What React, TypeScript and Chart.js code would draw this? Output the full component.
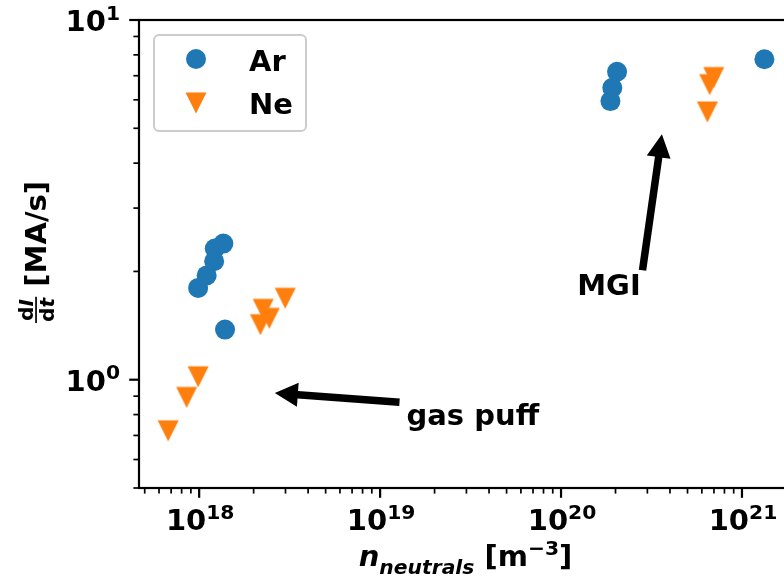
import React, { useEffect, useRef } from 'react';
import { Chart, registerables } from 'chart.js';

Chart.register(...registerables);

// ---- data ----
const seriesLabels = ['Ar', 'Ne'];
const arX = [9.87e17, 1.10e18, 1.21e18, 1.22e18, 1.36e18, 1.39e18, 2.04e20, 1.92e20, 1.875e20, 1.33e21];
const arY = [1.80, 1.95, 2.135, 2.315, 2.39, 1.378, 7.18, 6.48, 5.95, 7.78];
const neX = [6.74e17, 8.52e17, 9.87e17, 2.26e18, 2.44e18, 2.18e18, 2.99e18, 6.98e20, 6.63e20, 6.44e20];
const neY = [0.721, 0.893, 1.019, 1.569, 1.481, 1.422, 1.684, 6.92, 6.61, 5.55];

const xMin = 4.65e17;
const xMax = 2.04e21;
const yMin = 0.5;
const yMax = 10;
const xMajorExps = [18, 19, 20, 21];
const yMajorExps = [0, 1];

const annotationTexts = ['MGI', 'gas puff'];
const annotationTips = [[3.61e20, 4.81], [2.62e18, 0.918]];
const annotationTails = [[2.82e20, 2.015], [1.28e19, 0.866]];
const annotationTextPos = [[1.84e20, 1.717], [1.40e19, 0.746]];
const annotationAlign = ['center', 'left'];

const BLUE = '#1f77b4';
const ORANGE = '#ff7f0e';
const FAMILY = '"DejaVu Sans", sans-serif';
const BASE = 29;
const SUB = 20.3;

function fnt(size: number, italic = false) {
  return `${italic ? 'italic ' : ''}bold ${size}px ${FAMILY}`;
}

type Run = { text: string; size: number; italic?: boolean; dy?: number };

function drawRuns(ctx: CanvasRenderingContext2D, runs: Run[], x: number, y: number, align: 'left' | 'center' | 'right') {
  const widths = runs.map((r) => {
    ctx.font = fnt(r.size, r.italic);
    return ctx.measureText(r.text).width;
  });
  const total = widths.reduce((a, b) => a + b, 0);
  let cx = align === 'left' ? x : align === 'center' ? x - total / 2 : x - total;
  ctx.textAlign = 'left';
  ctx.textBaseline = 'alphabetic';
  runs.forEach((r, i) => {
    ctx.font = fnt(r.size, r.italic);
    ctx.fillText(r.text, cx, y + (r.dy || 0));
    cx += widths[i];
  });
}

function triPath(ctx: CanvasRenderingContext2D, cx: number, cy: number, h: number) {
  ctx.beginPath();
  ctx.moveTo(cx - h, cy - h);
  ctx.lineTo(cx + h, cy - h);
  ctx.lineTo(cx, cy + h);
  ctx.closePath();
}

function drawArrow(ctx: CanvasRenderingContext2D, x1: number, y1: number, x2: number, y2: number) {
  const shaftW = 7.5, headW = 24, headL = 23;
  const dx = x2 - x1, dy = y2 - y1;
  const len = Math.hypot(dx, dy);
  const ux = dx / len, uy = dy / len;
  const nx = -uy, ny = ux;
  const bx = x2 - ux * headL, by = y2 - uy * headL;
  ctx.beginPath();
  ctx.moveTo(x1 + nx * shaftW / 2, y1 + ny * shaftW / 2);
  ctx.lineTo(bx + nx * shaftW / 2, by + ny * shaftW / 2);
  ctx.lineTo(bx + nx * headW / 2, by + ny * headW / 2);
  ctx.lineTo(x2, y2);
  ctx.lineTo(bx - nx * headW / 2, by - ny * headW / 2);
  ctx.lineTo(bx - nx * shaftW / 2, by - ny * shaftW / 2);
  ctx.lineTo(x1 - nx * shaftW / 2, y1 - ny * shaftW / 2);
  ctx.closePath();
  ctx.fillStyle = '#000';
  ctx.fill();
}

const decorPlugin = {
  id: 'decor',
  afterDraw(chart: any) {
    const ctx: CanvasRenderingContext2D = chart.ctx;
    const { left, right, top, bottom } = chart.chartArea;
    const xs = chart.scales.x;
    const ys = chart.scales.y;
    ctx.save();

    // annotations
    annotationTexts.forEach((t, i) => {
      const tx = xs.getPixelForValue(annotationTails[i][0]);
      const ty = ys.getPixelForValue(annotationTails[i][1]);
      const hx = xs.getPixelForValue(annotationTips[i][0]);
      const hy = ys.getPixelForValue(annotationTips[i][1]);
      drawArrow(ctx, tx, ty, hx, hy);
      ctx.fillStyle = '#000';
      drawRuns(ctx, [{ text: t, size: BASE }], xs.getPixelForValue(annotationTextPos[i][0]),
        ys.getPixelForValue(annotationTextPos[i][1]), annotationAlign[i] as any);
    });

    // frame
    ctx.strokeStyle = '#000';
    ctx.lineWidth = 2.2;
    ctx.lineJoin = 'miter';
    ctx.strokeRect(left, top, right - left, bottom - top);

    // ticks
    const tickDraw = (isX: boolean) => {
      for (let e = -2; e <= 22; e++) {
        for (let k = 1; k <= 9; k++) {
          const v = k * Math.pow(10, e);
          const lo = isX ? xMin : yMin, hi = isX ? xMax : yMax;
          if (v < lo * 0.9999 || v > hi * 1.0001) continue;
          const major = k === 1;
          const L = major ? 9.8 : 5.6;
          ctx.lineWidth = major ? 2.2 : 1.7;
          ctx.beginPath();
          if (isX) {
            const p = xs.getPixelForValue(v);
            ctx.moveTo(p, bottom);
            ctx.lineTo(p, bottom + L);
          } else {
            const p = ys.getPixelForValue(v);
            ctx.moveTo(left, p);
            ctx.lineTo(left - L, p);
          }
          ctx.stroke();
        }
      }
    };
    tickDraw(true);
    tickDraw(false);

    // tick labels
    ctx.fillStyle = '#000';
    xMajorExps.forEach((e) => {
      const p = xs.getPixelForValue(Math.pow(10, e));
      drawRuns(ctx, [{ text: '10', size: BASE }, { text: String(e), size: SUB, dy: -11.5 }], p + 1, bottom + 42, 'center');
    });
    yMajorExps.forEach((e) => {
      const p = ys.getPixelForValue(Math.pow(10, e));
      drawRuns(ctx, [{ text: '10', size: BASE }, { text: String(e), size: SUB, dy: -11.5 }], left - 19, p + 11, 'right');
    });

    // x axis title
    drawRuns(ctx, [
      { text: 'n', size: BASE, italic: true },
      { text: 'neutrals', size: SUB, italic: true, dy: 8 },
      { text: ' [m', size: BASE },
      { text: '\u22123', size: SUB, dy: -11.5 },
      { text: ']', size: BASE },
    ], (left + right) / 2 - 3, 566, 'center');

    // y axis title (rotated)
    ctx.save();
    ctx.translate(0, (top + bottom) / 2 - 2);
    ctx.rotate(-Math.PI / 2);
    ctx.font = fnt(SUB);
    const wd = ctx.measureText('d').width;
    ctx.font = fnt(SUB, true);
    const wI = ctx.measureText('I').width;
    const wt = ctx.measureText('t').width;
    const numW = wd + wI, denW = wd + wt;
    const fracW = Math.max(numW, denW) + 2;
    ctx.font = fnt(BASE);
    const spaceW = ctx.measureText(' ').width;
    const mainW = ctx.measureText('[MA/s]').width;
    const total = fracW + spaceW + mainW;
    const u0 = -total / 2;
    drawRuns(ctx, [{ text: 'd', size: SUB }, { text: 'I', size: SUB, italic: true }], u0 + fracW / 2, 32.5, 'center');
    drawRuns(ctx, [{ text: 'd', size: SUB }, { text: 't', size: SUB, italic: true }], u0 + fracW / 2, 53.5, 'center');
    ctx.fillRect(u0, 35.2, fracW, 1.7);
    drawRuns(ctx, [{ text: '[MA/s]', size: BASE }], u0 + fracW + spaceW, 45.5, 'left');
    ctx.restore();

    // legend
    ctx.beginPath();
    (ctx as any).roundRect(154, 35, 152, 96, 5);
    ctx.fillStyle = 'rgba(255,255,255,0.8)';
    ctx.fill();
    ctx.strokeStyle = '#cccccc';
    ctx.lineWidth = 2;
    ctx.stroke();
    ctx.fillStyle = BLUE;
    ctx.beginPath();
    ctx.arc(196, 59, 10, 0, Math.PI * 2);
    ctx.fill();
    ctx.fillStyle = ORANGE;
    triPath(ctx, 196, 103, 10.5);
    ctx.fill();
    ctx.fillStyle = '#000';
    drawRuns(ctx, [{ text: seriesLabels[0], size: BASE }], 249, 70.5, 'left');
    drawRuns(ctx, [{ text: seriesLabels[1], size: BASE }], 249, 113.5, 'left');

    ctx.restore();
  },
};

export default function App() {
  const ref = useRef<HTMLCanvasElement>(null);
  useEffect(() => {
    const canvas = ref.current!;
    const tri = document.createElement('canvas');
    tri.width = 24;
    tri.height = 24;
    const tctx = tri.getContext('2d')!;
    tctx.fillStyle = ORANGE;
    triPath(tctx, 12, 12, 10.5);
    tctx.fill();

    const chart = new Chart(canvas, {
      type: 'scatter',
      data: {
        datasets: [
          {
            label: seriesLabels[0],
            data: arX.map((x, i) => ({ x, y: arY[i] })),
            pointStyle: 'circle',
            pointRadius: 10,
            backgroundColor: BLUE,
            borderColor: BLUE,
            borderWidth: 0,
            clip: false as any,
          },
          {
            label: seriesLabels[1],
            data: neX.map((x, i) => ({ x, y: neY[i] })),
            pointStyle: tri as any,
            pointRadius: 10.5,
            backgroundColor: ORANGE,
            borderColor: ORANGE,
            borderWidth: 0,
            clip: false as any,
          },
        ],
      },
      options: {
        animation: false,
        responsive: false,
        devicePixelRatio: 1,
        events: [],
        layout: { padding: { left: 139, top: 20, right: 32, bottom: 91 } },
        scales: {
          x: { type: 'logarithmic', min: xMin, max: xMax, display: false },
          y: { type: 'logarithmic', min: yMin, max: yMax, display: false },
        },
        plugins: { legend: { display: false }, tooltip: { enabled: false } },
      },
      plugins: [decorPlugin],
    });
    return () => chart.destroy();
  }, []);

  return (
    <div style={{ position: 'fixed', left: 0, top: 0, width: 784, height: 579, overflow: 'hidden', background: '#fff' }}>
      <canvas ref={ref} width={830} height={579} style={{ width: 830, height: 579, display: 'block' }} />
    </div>
  );
}
